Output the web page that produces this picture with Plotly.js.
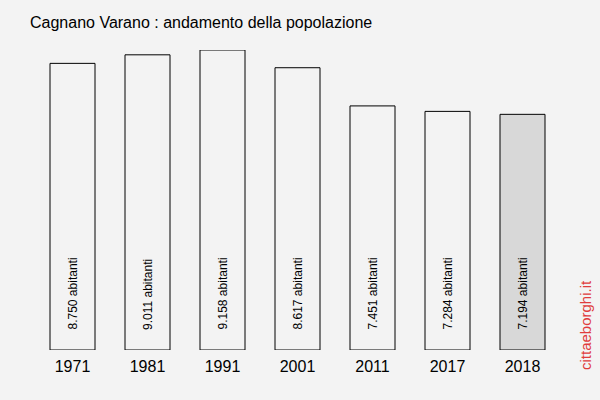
<!DOCTYPE html>
<html><head><meta charset="utf-8">
<script src="https://cdn.plot.ly/plotly-3.0.1.min.js"></script>
<style>html,body{margin:0;padding:0;background:#f3f3f3;}</style>
</head><body>
<div id="chart" style="width:600px;height:400px;"></div>
<script>
const years = ['1971','1981','1991','2001','2011','2017','2018'];
const population = [8750, 9011, 9158, 8617, 7451, 7284, 7194];
const labels = ['8.750 abitanti','9.011 abitanti','9.158 abitanti','8.617 abitanti','7.451 abitanti','7.284 abitanti','7.194 abitanti'];
const fills = ['#f3f3f3','#f3f3f3','#f3f3f3','#f3f3f3','#f3f3f3','#f3f3f3','#d8d8d8'];

const font = 'Liberation Sans, Arial, sans-serif';
const annotations = years.map((y, i) => ({
  x: i, y: 0, xref: 'x', yref: 'y', text: labels[i], showarrow: false,
  textangle: -90, yanchor: 'bottom', xanchor: 'center', yshift: 18,
  font: {family: font, size: 12, color: '#000'}
}));
annotations.push({
  xref: 'paper', yref: 'paper', x: 1.0476, y: 0.0833, text: 'cittaeborghi.it',
  showarrow: false, textangle: -90, xanchor: 'center', yanchor: 'middle',
  font: {family: font, size: 15, color: '#e03c3c'}
});

Plotly.newPlot('chart', [{
  type: 'bar', x: years, y: population, width: 0.6, cliponaxis: false,
  marker: {color: fills, line: {color: '#000', width: 1}},
  hoverinfo: 'none'
}], {
  width: 600, height: 400,
  margin: {l: 35, r: 40, t: 50, b: 50},
  paper_bgcolor: '#f3f3f3', plot_bgcolor: '#f3f3f3',
  title: {text: 'Cagnano Varano : andamento della popolazione', xref: 'container', yref: 'container',
    x: 0.05, xanchor: 'left', y: 0.945, yanchor: 'middle', font: {family: font, size: 16, color: '#000'}},
  xaxis: {type: 'category', range: [-0.5, 6.5], showgrid: false, zeroline: false, showline: false, ticks: '',
    ticklabelstandoff: 5, tickfont: {family: font, size: 16, color: '#000'}},
  yaxis: {range: [0, 9158], visible: false, showgrid: false, zeroline: false},
  showlegend: false,
  annotations: annotations
}, {displayModeBar: false, staticPlot: true});
</script>
</body></html>
